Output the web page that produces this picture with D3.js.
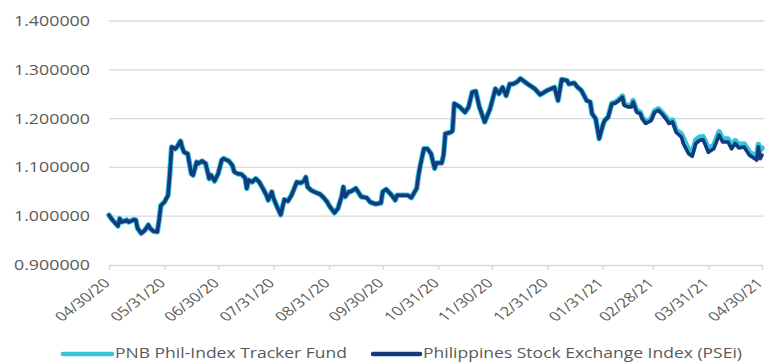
<!DOCTYPE html>
<html>
<head>
<meta charset="utf-8">
<script src="https://cdn.jsdelivr.net/npm/d3@7"></script>
<style>
  body { margin: 0; background: #fff; }
  svg { display: block; }
  text { font-family: "Open Sans", sans-serif; fill: #595959; }
</style>
</head>
<body>
<svg id="chart" width="767" height="362"></svg>
<script>
// Trading dates (mm/dd/yy)
const dates = [
  "04/30/20","05/02/20","05/05/20","05/06/20","05/07/20","05/10/20","05/11/20","05/14/20","05/15/20","05/16/20",
  "05/18/20","05/20/20","05/22/20","05/23/20","05/25/20","05/27/20","05/28/20","05/29/20","05/31/20","06/02/20",
  "06/03/20","06/04/20","06/06/20","06/07/20","06/09/20","06/10/20","06/11/20","06/13/20","06/15/20","06/16/20",
  "06/18/20","06/19/20","06/21/20","06/23/20","06/25/20","06/26/20","06/28/20","06/30/20","07/02/20","07/03/20",
  "07/06/20","07/08/20","07/09/20","07/11/20","07/13/20","07/15/20","07/16/20","07/17/20","07/19/20","07/21/20",
  "07/23/20","07/25/20","07/27/20","07/28/20","07/30/20","07/31/20","08/02/20","08/04/20","08/05/20","08/06/20",
  "08/08/20","08/10/20","08/13/20","08/15/20","08/17/20","08/18/20","08/19/20","08/21/20","08/24/20","08/26/20",
  "08/28/20","08/30/20","08/31/20","09/03/20","09/05/20","09/07/20","09/08/20","09/09/20","09/11/20","09/12/20",
  "09/15/20","09/18/20","09/21/20","09/23/20","09/26/20","09/29/20","09/30/20","10/02/20","10/05/20","10/07/20",
  "10/08/20","10/11/20","10/14/20","10/16/20","10/19/20","10/20/20","10/21/20","10/23/20","10/25/20","10/27/20",
  "10/29/20","10/30/20","11/02/20","11/03/20","11/04/20","11/07/20","11/08/20","11/09/20","11/12/20","11/15/20",
  "11/17/20","11/19/20","11/21/20","11/23/20","11/26/20","11/29/20","12/02/20","12/04/20","12/06/20","12/08/20",
  "12/10/20","12/12/20","12/14/20","12/16/20","12/20/20","12/24/20","12/27/20","12/31/20","01/04/21","01/06/21",
  "01/08/21","01/11/21","01/12/21","01/15/21","01/17/21","01/19/21","01/20/21","01/22/21","01/24/21","01/25/21",
  "01/27/21","01/29/21","01/31/21","02/01/21","02/03/21","02/05/21","02/07/21","02/09/21","02/11/21","02/12/21",
  "02/14/21","02/16/21","02/17/21","02/19/21","02/21/21","02/22/21","02/24/21","02/27/21","03/01/21","03/03/21",
  "03/05/21","03/08/21","03/09/21","03/11/21","03/13/21","03/16/21","03/17/21","03/20/21","03/22/21","03/24/21",
  "03/26/21","03/28/21","03/29/21","03/31/21","04/03/21","04/06/21","04/08/21","04/11/21","04/13/21","04/15/21",
  "04/17/21","04/20/21","04/23/21","04/26/21","04/27/21","04/28/21","04/29/21","04/30/21"
];

// Philippines Stock Exchange Index, rebased to 1.000000
const pseiValues = [
  1.002,0.992,0.980,0.995,0.988,0.992,0.988,0.993,0.992,0.975,
  0.965,0.971,0.982,0.975,0.969,0.968,0.992,1.022,1.029,1.043,
  1.087,1.142,1.138,1.142,1.154,1.140,1.131,1.128,1.087,1.084,
  1.111,1.108,1.113,1.108,1.077,1.084,1.072,1.087,1.115,1.118,
  1.113,1.104,1.091,1.087,1.086,1.079,1.057,1.074,1.070,1.077,
  1.070,1.057,1.043,1.033,1.050,1.036,1.019,1.003,1.019,1.034,
  1.031,1.043,1.070,1.068,1.072,1.080,1.060,1.053,1.048,1.045,
  1.038,1.029,1.022,1.007,1.016,1.040,1.060,1.040,1.050,1.050,
  1.057,1.040,1.038,1.029,1.025,1.027,1.050,1.055,1.043,1.033,
  1.043,1.043,1.043,1.038,1.057,1.084,1.104,1.138,1.138,1.128,
  1.098,1.109,1.109,1.125,1.169,1.172,1.175,1.231,1.224,1.213,
  1.224,1.254,1.256,1.224,1.193,1.220,1.261,1.251,1.264,1.247,
  1.271,1.271,1.275,1.282,1.271,1.261,1.249,1.258,1.264,1.237,
  1.280,1.278,1.271,1.273,1.264,1.258,1.251,1.237,1.234,1.210,
  1.200,1.159,1.186,1.196,1.203,1.230,1.232,1.237,1.244,1.227,
  1.224,1.224,1.234,1.213,1.210,1.200,1.190,1.196,1.213,1.217,
  1.210,1.196,1.190,1.193,1.172,1.162,1.149,1.128,1.123,1.149,
  1.155,1.157,1.149,1.131,1.138,1.166,1.152,1.152,1.138,1.149,
  1.140,1.142,1.125,1.118,1.115,1.142,1.118,1.125
];

// PNB Phil-Index Tracker Fund NAVPU, rebased to 1.000000
const fundValues = [
  1.002,0.992,0.980,0.995,0.988,0.992,0.988,0.993,0.992,0.975,
  0.965,0.971,0.982,0.975,0.969,0.968,0.992,1.022,1.029,1.043,
  1.087,1.142,1.138,1.142,1.154,1.140,1.131,1.128,1.087,1.084,
  1.111,1.108,1.113,1.108,1.077,1.084,1.072,1.087,1.115,1.118,
  1.113,1.104,1.091,1.087,1.086,1.079,1.057,1.074,1.070,1.077,
  1.070,1.057,1.043,1.033,1.050,1.036,1.019,1.003,1.019,1.034,
  1.031,1.043,1.070,1.068,1.072,1.080,1.060,1.053,1.048,1.045,
  1.038,1.029,1.022,1.007,1.016,1.040,1.060,1.040,1.050,1.050,
  1.057,1.040,1.038,1.029,1.025,1.027,1.050,1.055,1.043,1.033,
  1.043,1.043,1.043,1.038,1.057,1.084,1.104,1.138,1.138,1.128,
  1.098,1.109,1.109,1.125,1.169,1.172,1.175,1.231,1.224,1.213,
  1.224,1.254,1.256,1.224,1.193,1.220,1.261,1.251,1.264,1.247,
  1.271,1.271,1.275,1.282,1.271,1.261,1.249,1.258,1.264,1.237,
  1.280,1.278,1.271,1.273,1.264,1.258,1.251,1.237,1.234,1.210,
  1.200,1.159,1.186,1.196,1.203,1.231,1.233,1.239,1.246,1.230,
  1.227,1.227,1.237,1.216,1.213,1.203,1.193,1.199,1.216,1.220,
  1.213,1.200,1.194,1.197,1.177,1.168,1.160,1.136,1.130,1.156,
  1.162,1.163,1.156,1.138,1.145,1.173,1.158,1.158,1.145,1.155,
  1.147,1.148,1.131,1.124,1.122,1.147,1.135,1.140
];

const xTickLabels = ["04/30/20","05/31/20","06/30/20","07/31/20","08/31/20","09/30/20","10/31/20",
                     "11/30/20","12/31/20","01/31/21","02/28/21","03/31/21","04/30/21"];
const yTicks = [0.9, 1.0, 1.1, 1.2, 1.3, 1.4];
const seriesNames = ["PNB Phil-Index Tracker Fund", "Philippines Stock Exchange Index (PSEi)"];
const seriesColors = ["#35c5da", "#123a7c"];

const parse = d3.timeParse("%m/%d/%y");
const svg = d3.select("#chart");

const x = d3.scaleTime()
  .domain([parse(xTickLabels[0]), parse(xTickLabels[xTickLabels.length - 1])])
  .range([109, 762]);
const y = d3.scaleLinear().domain([0.9, 1.4]).range([265, 21]);

// horizontal gridlines
svg.append("g").selectAll("line")
  .data(yTicks.slice(1))
  .join("line")
  .attr("x1", 109).attr("x2", 764)
  .attr("y1", d => y(d)).attr("y2", d => y(d))
  .attr("stroke", "#d9d9d9").attr("stroke-width", 1.3);

// y labels
svg.append("g").selectAll("text")
  .data(yTicks)
  .join("text")
  .attr("x", 90).attr("y", d => y(d))
  .attr("dy", "0.36em")
  .attr("text-anchor", "end")
  .attr("font-size", 14)
  .attr("textLength", 76)
  .attr("lengthAdjust", "spacingAndGlyphs")
  .text(d => d3.format(".6f")(d));

// x axis
const xAxis = d3.axisBottom(x)
  .tickValues(xTickLabels.map(parse))
  .tickSize(5)
  .tickSizeOuter(0)
  .tickFormat("");
const gx = svg.append("g").attr("transform", `translate(0,${y(0.9)})`).call(xAxis);
gx.select(".domain").attr("stroke", "#d9d9d9").attr("stroke-width", 1.3);
gx.selectAll(".tick line").attr("stroke", "#d9d9d9").attr("stroke-width", 1.3);

// rotated month-end labels
svg.append("g").selectAll("text")
  .data(xTickLabels)
  .join("text")
  .attr("transform", d => `translate(${x(parse(d)) + 2},${y(0.9) + 19}) scale(1.28,1) rotate(-45)`)
  .attr("text-anchor", "end")
  .attr("font-size", 13)
  .text(d => d);

// series lines
const rows = dates.map((d, i) => ({ date: parse(d), psei: pseiValues[i], fund: fundValues[i] }));
const lineFund = d3.line().x(d => x(d.date)).y(d => y(d.fund));
const linePsei = d3.line().x(d => x(d.date)).y(d => y(d.psei));

svg.append("path").datum(rows)
  .attr("d", lineFund)
  .attr("fill", "none").attr("stroke", seriesColors[0])
  .attr("stroke-width", 5.5).attr("stroke-linejoin", "round").attr("stroke-linecap", "round");
svg.append("path").datum(rows)
  .attr("d", linePsei)
  .attr("fill", "none").attr("stroke", seriesColors[1])
  .attr("stroke-width", 3.6).attr("stroke-linejoin", "round").attr("stroke-linecap", "round");

// legend
const legendItems = [
  { name: seriesNames[0], color: seriesColors[0], x1: 63, x2: 112, tx: 115, len: 232 },
  { name: seriesNames[1], color: seriesColors[1], x1: 373, x2: 420, tx: 423, len: 319 }
];
const lg = svg.append("g");
legendItems.forEach(it => {
  lg.append("line")
    .attr("x1", it.x1).attr("x2", it.x2).attr("y1", 354).attr("y2", 354)
    .attr("stroke", it.color).attr("stroke-width", 4.5).attr("stroke-linecap", "round");
  lg.append("text")
    .attr("x", it.tx).attr("y", 358)
    .attr("font-size", 15)
    .attr("textLength", it.len)
    .attr("lengthAdjust", "spacingAndGlyphs")
    .text(it.name);
});
</script>
</body>
</html>
